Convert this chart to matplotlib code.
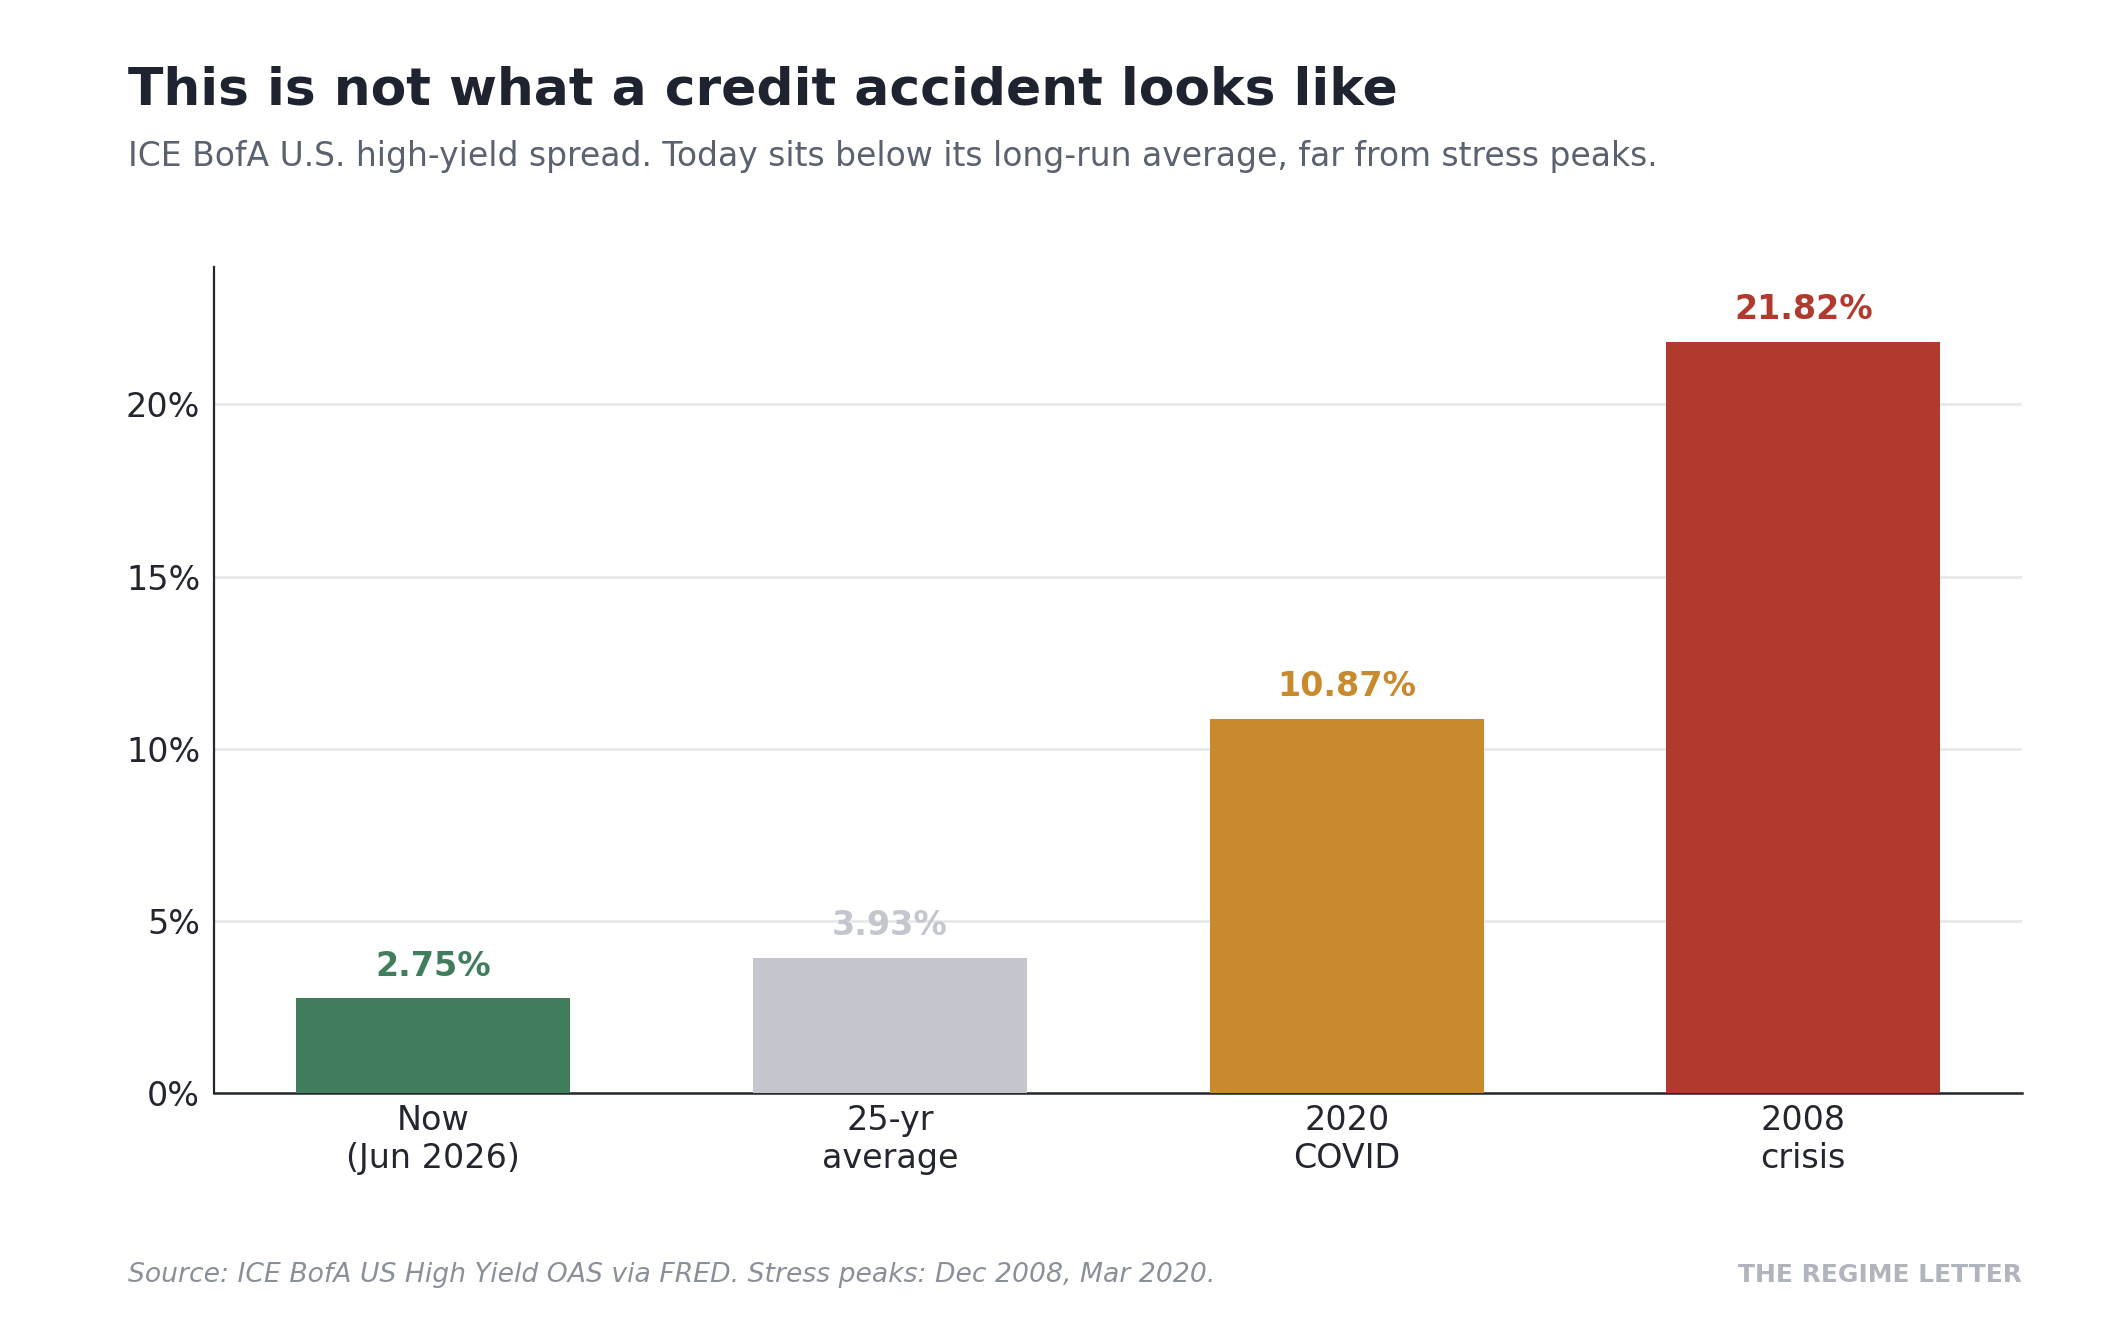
import matplotlib
matplotlib.use("Agg")
import matplotlib.pyplot as plt
from matplotlib.ticker import FuncFormatter

categories = ["Now\n(Jun 2026)", "25-yr\naverage", "2020\nCOVID", "2008\ncrisis"]
values = [2.75, 3.93, 10.87, 21.82]
bar_colors = ["#3f7d5c", "#c3c7cd", "#c88a2c", "#b03a2e"]
y_ticks = [0, 5, 10, 15, 20]

title = "This is not what a credit accident looks like"
subtitle = "ICE BofA U.S. high-yield spread. Today sits below its long-run average, far from stress peaks."
source = "Source: ICE BofA US High Yield OAS via FRED. Stress peaks: Dec 2008, Mar 2020."
brand = "THE REGIME LETTER"

plt.rcParams['font.family'] = ['DejaVu Sans']

fig = plt.figure(figsize=(10.6, 6.6), dpi=200)
ax = fig.add_axes([0.101, 0.172, 0.853, 0.626])

x = list(range(len(categories)))
bars = ax.bar(x, values, width=0.6, color=bar_colors, zorder=3)

for xi, v, c in zip(x, values, bar_colors):
    ax.annotate(f"{v:.2f}%", (xi, v), xytext=(0, 5.5), textcoords="offset points",
                ha="center", va="bottom", fontsize=12, fontweight="bold", color=c)

ax.set_ylim(0, 24)
ax.set_yticks(y_ticks)
ax.yaxis.set_major_formatter(FuncFormatter(lambda v, p: f"{v:.0f}%"))
ax.set_xticks(x)
ax.set_xticklabels(categories)
ax.tick_params(axis="both", length=0, labelsize=12, colors="#23262f", pad=5)
ax.tick_params(axis="x", pad=4)
ax.grid(axis="y", color="#e8e9eb", linewidth=1.0, zorder=0)
ax.set_axisbelow(True)
for s in ["top", "right"]:
    ax.spines[s].set_visible(False)
ax.spines["left"].set_color("#23262f")
ax.spines["left"].set_linewidth(0.8)
ax.spines["bottom"].set_color("#23262f")
ax.spines["bottom"].set_linewidth(0.9)

fig.text(0.0606, 0.921, title, fontsize=18.7, fontweight="bold", color="#1f2330", ha="left", va="baseline")
fig.text(0.0606, 0.874, subtitle, fontsize=11.9, color="#5a6270", ha="left", va="baseline")
fig.text(0.0606, 0.029, source, fontsize=9.6, style="italic", color="#8a909a", ha="left", va="baseline")
fig.text(0.954, 0.029, brand, fontsize=9, fontweight="bold", color="#b0b5bd", ha="right", va="baseline")

fig.savefig("out.png", dpi=200, facecolor="white")
